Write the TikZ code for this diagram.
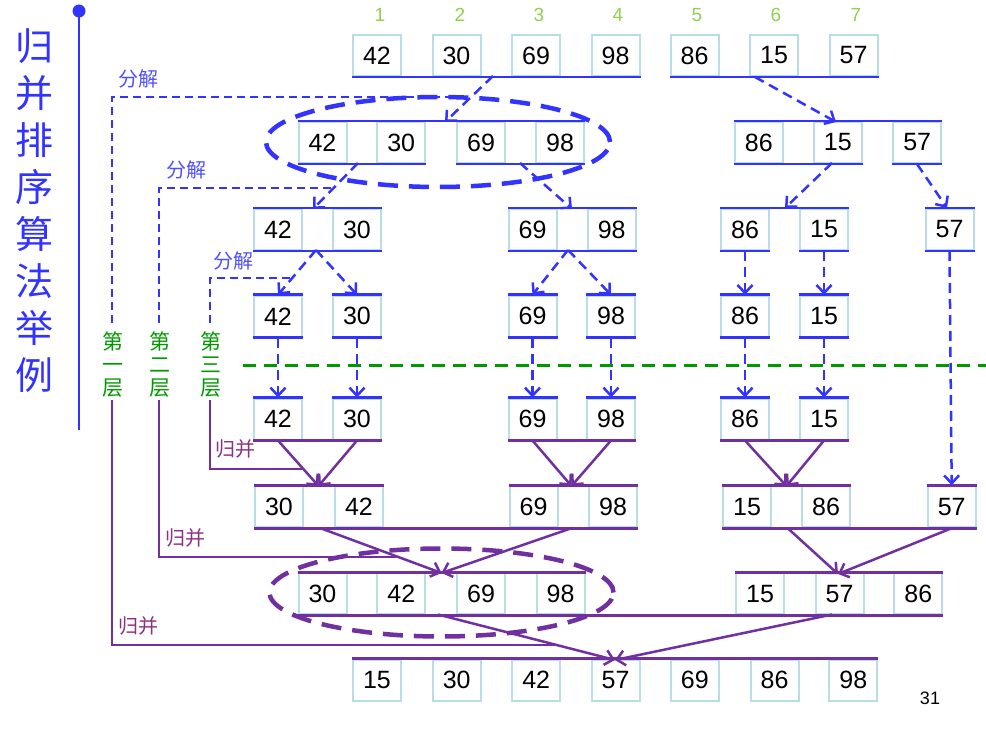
\documentclass[tikz,border=0pt]{standalone}
\usepackage{fontspec}
\setmainfont{Liberation Sans}
\newfontfamily\cjk{Noto Sans CJK SC}
\usetikzlibrary{arrows.meta}
\definecolor{cellc}{RGB}{183,221,232}
\definecolor{bl}{RGB}{51,51,255}
\definecolor{fjc}{RGB}{80,80,255}
\definecolor{pu}{RGB}{112,48,160}
\definecolor{gbc}{RGB}{140,50,130}
\definecolor{gr}{RGB}{0,153,0}
\definecolor{yg}{RGB}{146,208,80}
\begin{document}
\begin{tikzpicture}[x=1pt,y=-1pt,
  cell/.style={draw=cellc, line width=2pt, minimum width=48pt, minimum height=41pt, inner sep=0pt, font=\fontsize{25}{30}\selectfont},
  bline/.style={draw=bl, line width=2.7pt},
  pline/.style={draw=pu, line width=2.7pt},
  darr/.style={draw=bl, line width=2.5pt, dash pattern=on 10pt off 6pt, -{Straight Barb[length=8pt,width=15pt,line width=2.5pt]}},
  marr/.style={draw=pu, line width=2.5pt, -{Straight Barb[length=8pt,width=15pt,line width=2.5pt]}},
  fjline/.style={draw=bl, line width=2pt, dash pattern=on 8pt off 5pt},
  gbline/.style={draw=pu, line width=2pt},
  idx/.style={text=yg, font=\fontsize{19}{19}\selectfont},
  fjlab/.style={text=fjc, font=\cjk\fontsize{20}{20}\selectfont},
  gblab/.style={text=gbc, font=\cjk\fontsize{20}{20}\selectfont},
  layer/.style={text=gr, font=\cjk\fontsize{21}{23}\selectfont, align=center, inner sep=0pt},
]
\fill[white] (0,0) rectangle (986,733);
\useasboundingbox (0,0) rectangle (986,733);

% title
\node[text=bl, font=\cjk\fontsize{38}{47}\selectfont, align=center, inner sep=0pt] (title) at (35,211) {归\\并\\排\\序\\算\\法\\举\\例};
\coordinate (tl0) at (79,11);
\coordinate (tl1) at (79,430);
\draw[bl, line width=2pt] (tl0) -- (tl1);
\fill[bl] (tl0) circle (6.5pt);

% index numbers
\node[idx] (i1) at (380,15) {1};
\node[idx] (i2) at (460,15) {2};
\node[idx] (i3) at (539,15) {3};
\node[idx] (i4) at (618,15) {4};
\node[idx] (i5) at (697,15) {5};
\node[idx] (i6) at (776,15) {6};
\node[idx] (i7) at (856,15) {7};

% row 0
\node[cell] (r0a) at (377,55.5) {42};
\node[cell] (r0b) at (456.5,55.5) {30};
\node[cell] (r0c) at (536,55.5) {69};
\node[cell] (r0d) at (615.5,55.5) {98};
\node[cell] (r0e) at (694.5,55.5) {86};
\node[cell] (r0f) at (774,55.5) {15};
\node[cell] (r0g) at (853.5,55.5) {57};
% row 1
\node[cell] (r1a) at (322.5,142.5) {42};
\node[cell] (r1b) at (401.2,142.5) {30};
\node[cell] (r1c) at (481,142.5) {69};
\node[cell] (r1d) at (560,142.5) {98};
\node[cell] (r1e) at (758.8,142.5) {86};
\node[cell] (r1f) at (837.8,142.5) {15};
\node[cell] (r1g) at (917.2,142.5) {57};
% row 2
\node[cell] (r2a) at (278,229.5) {42};
\node[cell] (r2b) at (357,229.5) {30};
\node[cell] (r2c) at (532.5,229.5) {69};
\node[cell] (r2d) at (611.7,229.5) {98};
\node[cell] (r2e) at (745,229.5) {86};
\node[cell] (r2f) at (824,229.5) {15};
\node[cell] (r2g) at (949.5,229.5) {57};
% row 3
\node[cell] (r3a) at (278,316.3) {42};
\node[cell] (r3b) at (357,316.3) {30};
\node[cell] (r3c) at (532.5,316.3) {69};
\node[cell] (r3d) at (611,316.3) {98};
\node[cell] (r3e) at (745,316.3) {86};
\node[cell] (r3f) at (824,316.3) {15};
% row 4
\node[cell] (r4a) at (278,419) {42};
\node[cell] (r4b) at (357,419) {30};
\node[cell] (r4c) at (532.5,419) {69};
\node[cell] (r4d) at (611,419) {98};
\node[cell] (r4e) at (745,419) {86};
\node[cell] (r4f) at (824,419) {15};
% row 5
\node[cell] (r5a) at (279,506.7) {30};
\node[cell] (r5b) at (359,506.7) {42};
\node[cell] (r5c) at (533.5,506.7) {69};
\node[cell] (r5d) at (613,506.7) {98};
\node[cell] (r5e) at (747,506.7) {15};
\node[cell] (r5f) at (826,506.7) {86};
\node[cell] (r5g) at (951.7,506.7) {57};
% row 6
\node[cell] (r6a) at (322.5,593.7) {30};
\node[cell] (r6b) at (401.3,593.7) {42};
\node[cell] (r6c) at (481,593.7) {69};
\node[cell] (r6d) at (560.5,593.7) {98};
\node[cell] (r6e) at (760,593.7) {15};
\node[cell] (r6f) at (839.5,593.7) {57};
\node[cell] (r6g) at (918.3,593.7) {86};
% row 7
\node[cell] (r7a) at (377,680) {15};
\node[cell] (r7b) at (456.7,680) {30};
\node[cell] (r7c) at (536.2,680) {42};
\node[cell] (r7d) at (615.5,680) {57};
\node[cell] (r7e) at (694.8,680) {69};
\node[cell] (r7f) at (774.5,680) {86};
\node[cell] (r7g) at (853.3,680) {98};

% overlay lines
\draw[bline] (r0a.south west) -- (r0d.south east);
\draw[bline] (r0e.south west) -- (r0g.south east);
\draw[bline] (r1a.north west) -- (r1d.north east);
\draw[bline] (r1a.south west) -- (r1b.south east);
\draw[bline] (r1c.south west) -- (r1d.south east);
\draw[bline] (r1e.north west) -- (r1g.north east);
\draw[bline] (r1e.south west) -- (r1f.south east);
\draw[bline] (r1g.south west) -- (r1g.south east);
\draw[bline] (r2a.north west) -- (r2b.north east);
\draw[bline] (r2a.south west) -- (r2b.south east);
\draw[bline] (r2c.north west) -- (r2d.north east);
\draw[bline] (r2c.south west) -- (r2d.south east);
\draw[bline] (r2e.north west) -- (r2f.north east);
\draw[bline] (r2e.south west) -- (r2e.south east);
\draw[bline] (r2f.south west) -- (r2f.south east);
\draw[bline] (r2g.north west) -- (r2g.north east);
\draw[bline] (r2g.south west) -- (r2g.south east);
\foreach \n in {r3a,r3b,r3c,r3d,r3e,r3f}{
  \draw[bline] (\n.north west) -- (\n.north east);
  \draw[bline] (\n.south west) -- (\n.south east);
}
\foreach \n in {r4a,r4b,r4c,r4d,r4e,r4f}{
  \draw[bline] (\n.north west) -- (\n.north east);
}
\draw[pline] (r4a.south west) -- (r4b.south east);
\draw[pline] (r4c.south west) -- (r4d.south east);
\draw[pline] (r4e.south west) -- (r4f.south east);
\draw[pline] (r5a.north west) -- (r5b.north east);
\draw[pline] (r5c.north west) -- (r5d.north east);
\draw[pline] (r5e.north west) -- (r5f.north east);
\draw[pline] (r5g.north west) -- (r5g.north east);
\draw[pline] (r5a.south west) -- (r5d.south east);
\draw[pline] (r5e.south west) -- (r5g.south east);
\draw[pline] (r6a.north west) -- (r6d.north east);
\draw[pline] (r6e.north west) -- (r6g.north east);
\draw[pline] (r6a.south west) -- (r6g.south east);
\draw[pline] (r7a.north west) -- (r7g.north east);

% decomposition arrows
\coordinate (s1) at (493,76);   \coordinate (e1) at (445,122);
\coordinate (s2) at (755,77);   \coordinate (e2) at (836,122);
\coordinate (s3) at (358,163);  \coordinate (e3) at (313,209);
\coordinate (s4) at (520,163);  \coordinate (e4) at (572,209);
\coordinate (s5) at (832,163);  \coordinate (e5) at (785,208);
\coordinate (s6) at (917,164);  \coordinate (e6) at (947,208);
\coordinate (s7) at (316,250);
\coordinate (s8) at (568,250);
\draw[darr] (s1) -- (e1);
\draw[darr] (s2) -- (e2);
\draw[darr] (s3) -- (e3);
\draw[darr] (s4) -- (e4);
\draw[darr] (s5) -- (e5);
\draw[darr] (s6) -- (e6);
\draw[darr] (s7) -- (r3a.north);
\draw[darr] (s7) -- (r3b.north);
\draw[darr] (s8) -- (r3c.north);
\draw[darr] (s8) -- (r3d.north);
\draw[darr] (r2e.south) -- (r3e.north);
\draw[darr] (r2f.south) -- (r3f.north);
\draw[darr] (r3a.south) -- (r4a.north);
\draw[darr] (r3b.south) -- (r4b.north);
\draw[darr] (r3c.south) -- (r4c.north);
\draw[darr] (r3d.south) -- (r4d.north);
\draw[darr] (r3e.south) -- (r4e.north);
\draw[darr] (r3f.south) -- (r4f.north);
\draw[darr] (r2g.south) -- (r5g.north);

% merge arrows
\coordinate (m1) at (318.5,486);
\coordinate (m2) at (571.5,486);
\coordinate (m3) at (786.5,486);
\coordinate (m4s1) at (320,528);  \coordinate (m4s2) at (572,528);  \coordinate (m4) at (441.5,573);
\coordinate (m5s1) at (787.5,528); \coordinate (m5) at (838,574);
\coordinate (m6s1) at (438,614.5); \coordinate (m6s2) at (832,614.5); \coordinate (m6) at (615,660);
\draw[marr] (r4a.south) -- (m1);
\draw[marr] (r4b.south) -- (m1);
\draw[marr] (r4c.south) -- (m2);
\draw[marr] (r4d.south) -- (m2);
\draw[marr] (r4e.south) -- (m3);
\draw[marr] (r4f.south) -- (m3);
\draw[marr] (m4s1) -- (m4);
\draw[marr] (m4s2) -- (m4);
\draw[marr] (m5s1) -- (m5);
\draw[marr] (r5g.south) -- (m5);
\draw[marr] (m6s1) -- (m6);
\draw[marr] (m6s2) -- (m6);

% ellipses
\draw[bl, line width=4.5pt, dash pattern=on 20pt off 11pt] (438,142) ellipse [x radius=172pt, y radius=45pt];
\draw[pu, line width=4.5pt, dash pattern=on 20pt off 11pt] (441.5,592.5) ellipse [x radius=172pt, y radius=44pt];

% green separator
\coordinate (g0) at (243,365);
\coordinate (g1) at (986,365);
\draw[gr, line width=3pt, dash pattern=on 13pt off 8pt] (g0) -- (g1);

% layer labels
\node[layer] (L1) at (113,364.5) {第\\一\\层};
\node[layer] (L2) at (160,364.5) {第\\二\\层};
\node[layer] (L3) at (211,364.5) {第\\三\\层};

% decomposition brackets
\coordinate (f1a) at (112,323); \coordinate (f1b) at (112,97);  \coordinate (f1c) at (468,97);
\coordinate (f2a) at (159,323); \coordinate (f2b) at (159,188); \coordinate (f2c) at (333,188);
\coordinate (f3a) at (210,323); \coordinate (f3b) at (210,278); \coordinate (f3c) at (294,278);
\draw[fjline] (f1a) -- (f1b) -- (f1c);
\draw[fjline] (f2a) -- (f2b) -- (f2c);
\draw[fjline] (f3a) -- (f3b) -- (f3c);
\node[fjlab] (fj1) at (138,79) {分解};
\node[fjlab] (fj2) at (186,170) {分解};
\node[fjlab] (fj3) at (233,261) {分解};

% merge brackets
\coordinate (g1a) at (210,400); \coordinate (g1b) at (210,469); \coordinate (g1c) at (302,469);
\coordinate (g2a) at (159,400); \coordinate (g2b) at (159,557); \coordinate (g2c) at (396,557);
\coordinate (g3a) at (112,400); \coordinate (g3b) at (112,645); \coordinate (g3c) at (556,645);
\draw[gbline] (g1a) -- (g1b) -- (g1c);
\draw[gbline] (g2a) -- (g2b) -- (g2c);
\draw[gbline] (g3a) -- (g3b) -- (g3c);
\node[gblab] (gb1) at (235,449) {归并};
\node[gblab] (gb2) at (185,538) {归并};
\node[gblab] (gb3) at (138,626) {归并};

% page number
\node[font=\fontsize{18}{18}\selectfont] (pg) at (930,698) {31};
\end{tikzpicture}
\end{document}
